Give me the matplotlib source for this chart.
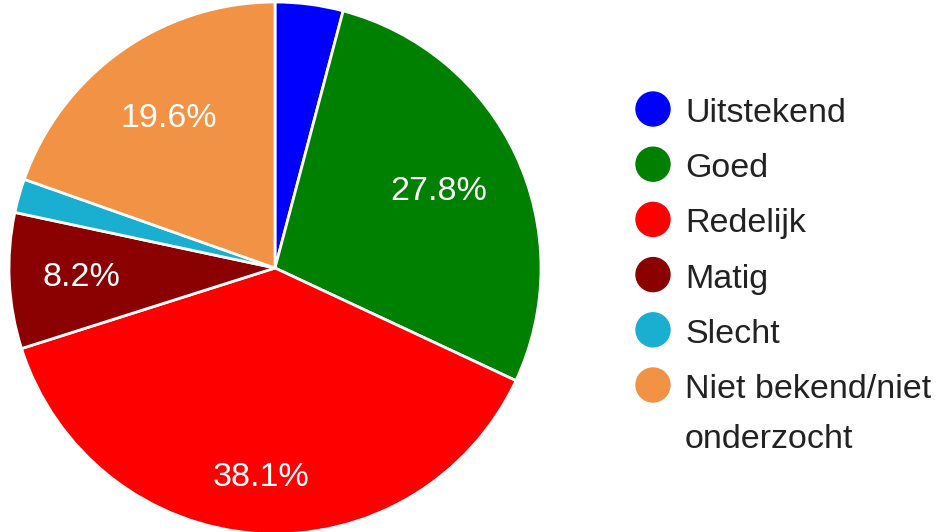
import matplotlib
matplotlib.use('Agg')
import matplotlib.pyplot as plt
import numpy as np
from matplotlib.patches import Circle

plt.rcParams['font.family'] = ['Liberation Sans', 'DejaVu Sans']

categories = ['Uitstekend', 'Goed', 'Redelijk', 'Matig', 'Slecht', 'Niet bekend/niet\nonderzocht']
counts = [4, 27, 37, 8, 2, 19]
colours = ['#0000ff', '#008000', '#ff0000', '#8b0000', '#1aaed0', '#f19245']
# afstand van het label tot het midden, per taartpunt
label_r = [0.7, 0.68, 0.79, 0.73, 0.7, 0.69]

fig = plt.figure(figsize=(9.4, 5.32), dpi=100)

# taart
R = 266
ax = fig.add_axes([(275 - R) / 940, (532 - 268 - R) / 532, 2 * R / 940, 2 * R / 532])
wedges, texts, autotexts = ax.pie(
    counts, colors=colours, startangle=90, counterclock=False,
    autopct=lambda p: '%.1f%%' % p if p >= 5 else '',
    pctdistance=0.7, radius=1,
    wedgeprops=dict(edgecolor='white', linewidth=2),
    textprops=dict(color='white', fontsize=24.5))
for w, t, r in zip(wedges, autotexts, label_r):
    th = np.deg2rad((w.theta1 + w.theta2) / 2)
    t.set_position((r * np.cos(th), r * np.sin(th)))
ax.set_xlim(-1, 1)
ax.set_ylim(-1, 1)
ax.set_aspect('equal')

# legenda
lax = fig.add_axes([0, 0, 1, 1])
lax.set_xlim(0, 940)
lax.set_ylim(532, 0)
lax.axis('off')
y0 = 109
step = 55.2
for i, (lab, col) in enumerate(zip(categories, colours)):
    y = y0 + i * step
    lax.add_patch(Circle((653, y), 17, color=col))
    lines = lab.split('\n')
    for j, line in enumerate(lines):
        lax.text(685, y + 13 + j * 50, line, fontsize=24.5, color='#222222', va='baseline')

fig.savefig('out.png', dpi=100)
